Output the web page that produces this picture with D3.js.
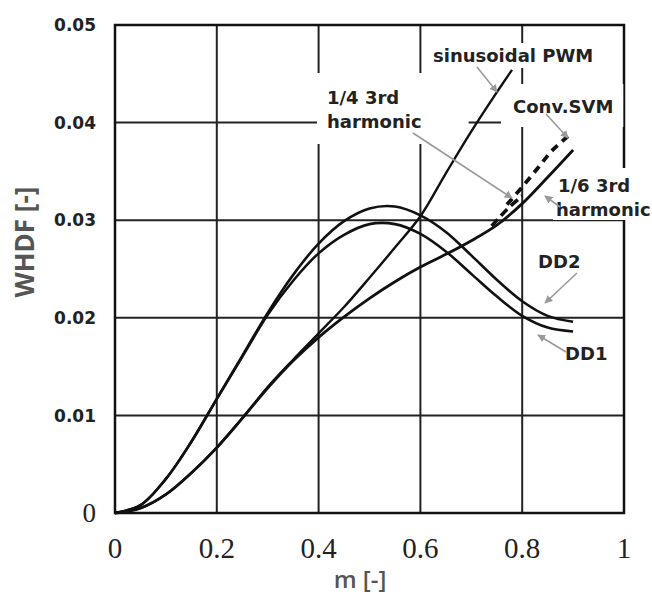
<!DOCTYPE html>
<html>
<head>
<meta charset="utf-8">
<script src="https://cdn.jsdelivr.net/npm/d3@7"></script>
<style>
  body { margin: 0; background: #fff; }
  svg { display: block; }
</style>
</head>
<body>
<div id="chart"></div>
<script>
// modulation index samples
var mVals = [0, 0.05, 0.1, 0.15, 0.2, 0.25, 0.3, 0.35, 0.4, 0.45, 0.5, 0.55, 0.6, 0.65, 0.7, 0.75, 0.8, 0.85, 0.9];
var dd2 = [0, 0.0008, 0.0035, 0.0073, 0.0117, 0.0161, 0.0205, 0.0244, 0.0276, 0.0299, 0.0312, 0.0314, 0.0305, 0.0288, 0.0264, 0.0239, 0.0217, 0.0202, 0.0196];
var dd1 = [0, 0.0008, 0.0035, 0.0073, 0.0117, 0.0160, 0.0203, 0.0238, 0.0266, 0.0285, 0.0296, 0.0296, 0.0286, 0.0268, 0.0245, 0.0222, 0.0202, 0.0190, 0.0186];
var third6 = [0, 0.0005, 0.0019, 0.0041, 0.0067, 0.0097, 0.0128, 0.0156, 0.0180, 0.0201, 0.0220, 0.0237, 0.0252, 0.0265, 0.0279, 0.0295, 0.0317, 0.0344, 0.0372];

var mSin = [0, 0.05, 0.1, 0.15, 0.2, 0.25, 0.3, 0.35, 0.4, 0.45, 0.5, 0.55, 0.6, 0.65, 0.7, 0.75, 0.78];
var sinPwm = [0, 0.0005, 0.0019, 0.0041, 0.0067, 0.0097, 0.0129, 0.0157, 0.0184, 0.0211, 0.0241, 0.0272, 0.0304, 0.0348, 0.0391, 0.0431, 0.0454];

var mThird4 = [0.74, 0.77, 0.8];
var third4 = [0.0294, 0.0311, 0.0325];

var mSvm = [0.77, 0.8, 0.83, 0.86, 0.89];
var convSvm = [0.0316, 0.0334, 0.0353, 0.0372, 0.0386];

var xTicks = [0, 0.2, 0.4, 0.6, 0.8, 1];
var xTickLabels = ["0", "0.2", "0.4", "0.6", "0.8", "1"];
var yTicks = [0.01, 0.02, 0.03, 0.04, 0.05];
var yTickLabels = ["0.01", "0.02", "0.03", "0.04", "0.05"];

var W = 652, H = 597;
var x = d3.scaleLinear().domain([0, 1]).range([115, 624]);
var y = d3.scaleLinear().domain([0, 0.05]).range([513, 25]);

var svg = d3.select("#chart").append("svg")
    .attr("width", W)
    .attr("height", H);

var defs = svg.append("defs");
defs.append("marker")
    .attr("id", "arr")
    .attr("viewBox", "0 0 10 10")
    .attr("refX", 9).attr("refY", 5)
    .attr("markerWidth", 8).attr("markerHeight", 8)
    .attr("markerUnits", "userSpaceOnUse")
    .attr("orient", "auto")
    .append("path")
    .attr("d", "M0,0 L10,5 L0,10 z")
    .style("fill", "#9a9a9a");

// grid
var grid = svg.append("g");
grid.selectAll(".vg")
    .data(xTicks.slice(1, -1))
    .enter().append("line")
    .attr("x1", d => x(d)).attr("x2", d => x(d))
    .attr("y1", y(0)).attr("y2", y(0.05))
    .style("stroke", "#222").style("stroke-width", 2);
grid.selectAll(".hg")
    .data(yTicks.slice(0, -1))
    .enter().append("line")
    .attr("x1", x(0)).attr("x2", x(1))
    .attr("y1", d => y(d)).attr("y2", d => y(d))
    .style("stroke", "#222").style("stroke-width", 2);
grid.append("rect")
    .attr("x", x(0)).attr("y", y(0.05))
    .attr("width", x(1) - x(0)).attr("height", y(0) - y(0.05))
    .style("fill", "none").style("stroke", "#111").style("stroke-width", 2.5);

// tick labels
svg.selectAll(".xt")
    .data(xTicks)
    .enter().append("text")
    .attr("x", d => x(d))
    .attr("y", 558)
    .attr("text-anchor", "middle")
    .style("font-family", "'Liberation Serif', 'Times New Roman', serif")
    .style("font-size", "29px")
    .style("fill", "#222")
    .text((d, i) => xTickLabels[i]);

svg.selectAll(".yt")
    .data(yTicks)
    .enter().append("text")
    .attr("x", 96)
    .attr("y", d => y(d))
    .attr("dy", "0.36em")
    .attr("text-anchor", "end")
    .style("font-family", "'DejaVu Sans', sans-serif")
    .style("font-weight", "bold")
    .style("font-size", "17px")
    .style("fill", "#222")
    .text((d, i) => yTickLabels[i]);

svg.append("text")
    .attr("x", 96)
    .attr("y", y(0))
    .attr("dy", "0.33em")
    .attr("text-anchor", "end")
    .style("font-family", "'Liberation Serif', 'Times New Roman', serif")
    .style("font-size", "27px")
    .style("fill", "#222")
    .text("0");

// axis titles
svg.append("text")
    .attr("transform", "translate(34,242) rotate(-90)")
    .attr("text-anchor", "middle")
    .style("font-family", "'Open Sans', sans-serif")
    .style("font-weight", "bold")
    .style("font-size", "26px")
    .style("fill", "#555")
    .text("WHDF [-]");

svg.append("text")
    .attr("x", 360)
    .attr("y", 588)
    .attr("text-anchor", "middle")
    .style("font-family", "'Open Sans', sans-serif")
    .style("font-weight", "600")
    .style("font-size", "24px")
    .style("fill", "#555")
    .text("m [-]");

// curve labels with white background patches (they hide grid lines in the scan)
var labels = [
    { lines: ["sinusoidal PWM"], x: 433, y: 62, pad: [3, 2, 3, 2], indent: 0 },
    { lines: ["1/4 3rd", "harmonic"], x: 327, y: 104, pad: [10, 14, 47, 12], indent: 0 },
    { lines: ["Conv.SVM"], x: 513, y: 113, pad: [12, 12, 10, 10], indent: 0 },
    { lines: ["1/6 3rd", "harmonic"], x: 558, y: 192, pad: [3, 7, 10, 0], indent: -2 },
    { lines: ["DD2"], x: 538, y: 268, pad: [2, 2, 2, 2], indent: 0 },
    { lines: ["DD1"], x: 565, y: 360, pad: [2, 2, 2, 2], indent: 0 }
];

var boxLayer = svg.append("g");
var curveLayer = svg.append("g");
var textLayer = svg.append("g");

labels.forEach(function (lb) {
    var t = textLayer.append("text")
        .style("font-family", "'DejaVu Sans', sans-serif")
        .style("font-weight", "bold")
        .style("font-size", "18px")
        .style("fill", "#222");
    lb.lines.forEach(function (s, i) {
        t.append("tspan")
            .attr("x", lb.x + (i > 0 ? lb.indent : 0))
            .attr("y", lb.y + i * 24)
            .text(s);
    });
    var bb = t.node().getBBox();
    boxLayer.append("rect")
        .attr("x", bb.x - lb.pad[0])
        .attr("y", bb.y - lb.pad[1])
        .attr("width", bb.width + lb.pad[0] + lb.pad[2])
        .attr("height", bb.height + lb.pad[1] + lb.pad[3])
        .style("fill", "#fff");
});

// curves
var line = d3.line()
    .x(d => x(d[0]))
    .y(d => y(d[1]))
    .curve(d3.curveCatmullRom.alpha(0.5));

function pairs(ms, vs) { return ms.map((m, i) => [m, vs[i]]); }

var series = [
    { name: "DD2", pts: pairs(mVals, dd2), w: 2.6, dash: null },
    { name: "DD1", pts: pairs(mVals, dd1), w: 2.6, dash: null },
    { name: "sinusoidal PWM", pts: pairs(mSin, sinPwm), w: 2.4, dash: null },
    { name: "1/6 3rd harmonic", pts: pairs(mVals, third6), w: 2.8, dash: null },
    { name: "1/4 3rd harmonic", pts: pairs(mThird4, third4), w: 3.6, dash: "9,5" },
    { name: "Conv.SVM", pts: pairs(mSvm, convSvm), w: 3.8, dash: "8,6" }
];

curveLayer.selectAll("path")
    .data(series)
    .enter().append("path")
    .attr("d", d => line(d.pts))
    .style("fill", "none")
    .style("stroke", "#111")
    .style("stroke-width", d => d.w)
    .style("stroke-dasharray", d => d.dash);

// pointer arrows
var arrows = [
    [477, 67, 497, 92],
    [413, 133, 512, 198],
    [546, 114, 568, 138],
    [560, 207, 545, 196],
    [577, 273, 545, 303],
    [566, 352, 538, 335]
];
svg.selectAll(".arrow")
    .data(arrows)
    .enter().append("line")
    .attr("x1", d => d[0]).attr("y1", d => d[1])
    .attr("x2", d => d[2]).attr("y2", d => d[3])
    .style("stroke", "#9a9a9a")
    .style("stroke-width", 1.6)
    .attr("marker-end", "url(#arr)");
</script>
</body>
</html>
